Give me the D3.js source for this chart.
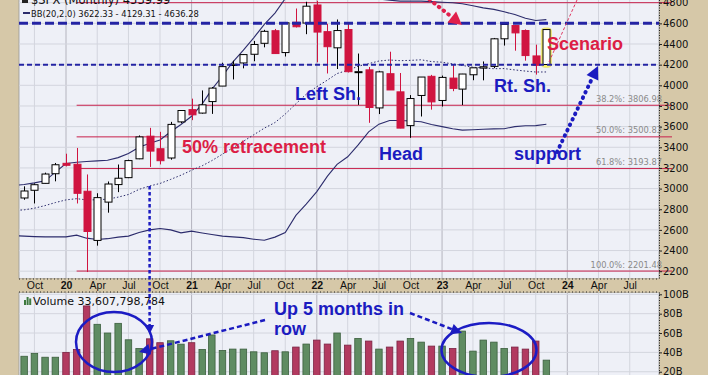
<!DOCTYPE html>
<html><head><meta charset="utf-8">
<script src="https://cdn.jsdelivr.net/npm/d3@7"></script>
<style>html,body{margin:0;padding:0;background:#d6c8a8;}svg{display:block;}</style>
</head><body>
<svg id="c" width="708" height="375"></svg>
<script>
// ---------- DATA ----------
const months = ["2019-08","2019-09","2019-10","2019-11","2019-12",
"2020-01","2020-02","2020-03","2020-04","2020-05","2020-06","2020-07","2020-08","2020-09","2020-10","2020-11","2020-12",
"2021-01","2021-02","2021-03","2021-04","2021-05","2021-06","2021-07","2021-08","2021-09","2021-10","2021-11","2021-12",
"2022-01","2022-02","2022-03","2022-04","2022-05","2022-06","2022-07","2022-08","2022-09","2022-10","2022-11","2022-12",
"2023-01","2023-02","2023-03","2023-04","2023-05","2023-06","2023-07","2023-08","2023-09","2023-10","2023-11"];
const openP = [2980.32,2909.01,2983.69,3050.72,3143.85,
3244.67,3235.66,2974.28,2498.08,2869.09,3038.78,3105.92,3288.26,3507.44,3385.87,3296.20,3645.87,
3764.61,3731.17,3842.51,3992.78,4191.98,4216.52,4300.73,4406.86,4528.80,4317.16,4610.62,4602.82,
4778.14,4519.57,4363.14,4540.32,4130.61,4149.78,3781.00,4112.38,3936.73,3609.78,3901.79,4087.14,
3853.29,4070.07,3963.34,4102.20,4166.79,4183.03,4450.48,4578.83,4530.60,4284.52,4201.27];
const highP = [3013.59,3021.99,3050.10,3154.26,3247.93,
3337.77,3393.52,3136.72,2954.86,3068.67,3233.13,3279.99,3514.77,3588.11,3549.85,3645.99,3760.20,
3870.90,3950.43,3983.87,4218.78,4238.04,4302.43,4429.97,4537.36,4545.85,4608.08,4743.83,4808.93,
4818.62,4595.31,4637.30,4593.45,4307.66,4177.51,4140.15,4325.28,4119.28,3905.42,4080.11,4100.96,
4094.21,4195.44,4110.75,4170.06,4231.10,4458.48,4607.07,4584.62,4541.25,4393.57,4541.00];
const lowP = [2822.12,2891.85,2855.94,3050.72,3070.33,
3214.64,2855.84,2191.86,2447.49,2766.64,2965.66,3101.17,3284.53,3209.45,3233.94,3279.74,3633.40,
3662.71,3725.62,3723.34,3992.78,4056.88,4164.40,4233.13,4367.73,4305.91,4278.94,4560.00,4495.12,
4222.62,4114.65,4157.87,4124.28,3810.32,3636.87,3721.56,3954.53,3584.13,3491.58,3698.15,3764.49,
3794.33,3943.08,3808.86,4049.35,4048.28,4166.15,4385.05,4335.31,4238.63,4103.78,4197.74];
const closeP = [2926.46,2976.74,3037.56,3140.98,3230.78,
3225.52,2954.22,2584.59,2912.43,3044.31,3100.29,3271.12,3500.31,3363.00,3269.96,3621.63,3756.07,
3714.24,3811.15,3972.89,4181.17,4204.11,4297.50,4395.26,4522.68,4307.54,4605.38,4567.00,4766.18,
4515.55,4373.94,4530.41,4131.93,4132.15,3785.38,4130.29,3955.00,3585.62,3871.98,4080.11,3839.50,
4076.60,3970.15,4109.31,4169.48,4179.83,4450.38,4588.96,4507.66,4288.05,4193.80,4539.99];
const prevCloseBefore = 2980.38;
// volume in billions
const volumeB = [40,36,39,35,35,
40,43,88,69,60,70,53,44,54,50,52,48.5,
50,43,58,42,43.4,43.4,40.6,39.6,41.7,40.6,45.5,48.6,
52.7,48.6,60,47.5,54.4,51.7,43.4,45.5,51.7,54.4,50.6,46.5,
46.5,44,62,41.3,52.7,50.6,44,45.5,43.4,51.7,32];
// Bollinger bands (20, 2.0)
const bbUpper = [3030,3040,3055,3075,3160,
3243,3255,3262,3268,3275,3300,3340,3400,3440,3470,3550,3620,
3700,3820,3960,4090,4225,4340,4460,4590,4700,4840,4920,4990,
5030,5020,5000,4980,4950,4880,4835,4825,4815,4815,4815,4810,
4805,4800,4790,4770,4750,4735,4712,4685,4650,4628,4636.28];
const bbMid = [2786.6,2794.2,2810.3,2835.3,2864.5,
2890.5,2902.3,2890.7,2891.2,2897.7,2917.2,2942.7,2992.4,3025.3,3049.6,3089.0,3129.5,
3177.6,3221.1,3270.7,3333.4,3394.8,3457.8,3520.5,3585.1,3639.2,3721.8,3820.9,3913.6,
3987.2,4050.9,4113.9,4145.5,4184.0,4209.8,4235.2,4245.1,4238.7,4241.7,4247.1,4230.0,
4223.6,4207.2,4192.9,4175.2,4168.8,4161.0,4162.1,4149.2,4137.8,4128.8,4129.31];
const bbLower = [2545,2540,2535,2532,2532,
2532,2549,2520,2507,2515,2530,2540,2575,2600,2614,2600,2571,
2588,2570,2555,2540,2532,2525,2510,2500,2530,2575,2740,2850,
2970,3120,3235,3308,3420,3550,3624,3660,3660,3655,3647,3620,
3600,3580,3566,3570,3575,3578,3580,3600,3608,3610,3622.33];
const priceTicks = [2200,2400,2600,2800,3000,3200,3400,3600,3800,4000,4200,4400,4600,4800];
const volTicks = [20,40,60,80,100];
const volTickLabels = ["20B","40B","60B","80B","100B"];
const fibValues = [4800.18,3806.98,3500.83,3193.87,2201.48];
const fibLabels = ["","38.2%: 3806.98","50.0%: 3500.83","61.8%: 3193.87","100.0%: 2201.48"];
const levelLines = [4600,4200];
const titleText = "$SPX (Monthly) 4539.99";
const bbLegend = "BB(20,2.0) 3622.33 - 4129.31 - 4636.28";
const volLegend = "Volume 33,607,798,784";

// ---------- LAYOUT ----------
const W=708,H=375,L=19,R=659,PB=278.5,BT=278.5,BBt=292.5,VT=292.5;
const svg = d3.select("#c");
const parse = d3.timeParse("%Y-%m");
const dates = months.map(parse);
const x = d3.scaleTime().domain([new Date(2020,0,1),new Date(2024,0,1)]).range([66,567.3]);
const y = d3.scaleLinear().domain([2200,4800]).range([271.2,2.7]);
const yv = d3.scaleLinear().domain([0,100]).range([391.1,294.3]);

const BLUE="#1b1bc0", RED="#dc1e46", CAND_RED="#d01440", NAVY="#2c2c6c";

svg.append("rect").attr("width",W).attr("height",H).attr("fill","#d6c8a8");
const defs = svg.append("defs");
defs.append("clipPath").attr("id","cp").append("rect").attr("x",L).attr("y",-20).attr("width",R-L).attr("height",PB+20);
defs.append("clipPath").attr("id","cv").append("rect").attr("x",L).attr("y",VT).attr("width",R-L).attr("height",H-VT+10);

// panels
svg.append("rect").attr("x",L).attr("y",-5).attr("width",R-L).attr("height",PB+5).attr("fill","#eef0f7").attr("stroke","#9a9a9a").attr("stroke-width",0.8);
svg.append("rect").attr("x",L).attr("y",VT).attr("width",R-L).attr("height",H-VT+5).attr("fill","#eef0f7").attr("stroke","#9a9a9a").attr("stroke-width",0.8);

// grid
const quarters = d3.timeMonth.every(3).range(new Date(2019,9,1), new Date(2024,9,1));
const grid = svg.append("g");
quarters.forEach(q=>{
  const isYear = q.getMonth()===0;
  const c = isYear ? "#b4b4be" : "#d3d5de";
  grid.append("line").attr("x1",x(q)).attr("x2",x(q)).attr("y1",-5).attr("y2",PB).attr("stroke",c).attr("stroke-width",1);
  grid.append("line").attr("x1",x(q)).attr("x2",x(q)).attr("y1",VT).attr("y2",H).attr("stroke",c).attr("stroke-width",1);
});
priceTicks.forEach(t=>{
  grid.append("line").attr("x1",L).attr("x2",R).attr("y1",y(t)).attr("y2",y(t)).attr("stroke","#d3d5de");
});
volTicks.forEach(t=>{
  grid.append("line").attr("x1",L).attr("x2",R).attr("y1",yv(t)).attr("y2",yv(t)).attr("stroke","#d3d5de");
});

// fib lines
const fibStart = x(new Date(2020,1,1));
const fib = svg.append("g");
fibValues.forEach((v,i)=>{
  fib.append("line").attr("x1",fibStart).attr("x2",672).attr("y1",y(v)).attr("y2",y(v)).attr("stroke","#c8204c").attr("stroke-width",1);
  if (fibLabels[i]) fib.append("text").attr("x",662).attr("y",y(v)-3.5).attr("text-anchor","end")
    .attr("font-family","DejaVu Sans").attr("font-size",8.3).attr("fill","#8a8a8a").text(fibLabels[i]);
});

// price layer (clipped)
const pg = svg.append("g").attr("clip-path","url(#cp)");
const line = arr => d3.line().x((d,i)=>x(dates[i])).y(d=>y(d))(arr);
pg.append("path").attr("d",line(bbUpper)).attr("fill","none").attr("stroke",NAVY).attr("stroke-width",1.1);
pg.append("path").attr("d",line(bbLower)).attr("fill","none").attr("stroke",NAVY).attr("stroke-width",1.1);
pg.append("path").attr("d",line(bbMid)).attr("fill","none").attr("stroke",NAVY).attr("stroke-width",1).attr("stroke-dasharray","1.5,2");

// yellow highlight behind last candle
const lastD = dates[dates.length-1];
pg.append("rect").attr("x",x(lastD)-5).attr("y",y(4555)).attr("width",10).attr("height",y(4175)-y(4555))
  .attr("rx",3).attr("fill","#fbf76a").attr("stroke","#ece27a").attr("stroke-width",1);

// candles
const bw = 7;
const cg = pg.append("g");
dates.forEach((d,i)=>{
  const o=openP[i],h=highP[i],l=lowP[i],c=closeP[i];
  const pc = i>0?closeP[i-1]:prevCloseBefore;
  const col = c<pc ? CAND_RED : "#000";
  const filled = c<o;
  const cx = Math.round(x(d))+0.5;
  cg.append("line").attr("x1",cx).attr("x2",cx).attr("y1",y(h)).attr("y2",y(l)).attr("stroke",col).attr("stroke-width",1);
  const top=y(Math.max(o,c)), bot=y(Math.min(o,c));
  cg.append("rect").attr("x",cx-bw/2).attr("y",top).attr("width",bw).attr("height",Math.max(1,bot-top))
    .attr("fill",filled?col:"#fff").attr("stroke",col).attr("stroke-width",1);
});

// horizontal blue dashed level lines
pg.append("line").attr("x1",L).attr("x2",R).attr("y1",y(levelLines[0])).attr("y2",y(levelLines[0]))
  .attr("stroke","#2424a4").attr("stroke-width",3).attr("stroke-dasharray","9,4");
pg.append("line").attr("x1",L).attr("x2",R).attr("y1",y(levelLines[1])).attr("y2",y(levelLines[1]))
  .attr("stroke","#2424a4").attr("stroke-width",2).attr("stroke-dasharray","5,3");

// legends
svg.append("rect").attr("x",22).attr("y",-3).attr("width",6).attr("height",6).attr("fill","#222");
svg.append("text").attr("x",31).attr("y",3.5).attr("font-family","DejaVu Sans").attr("font-size",11.5).attr("fill","#111").text(titleText);
svg.append("line").attr("x1",23).attr("x2",30).attr("y1",13).attr("y2",13).attr("stroke",NAVY).attr("stroke-width",2);
svg.append("text").attr("x",31).attr("y",16.8).attr("font-family","DejaVu Sans").attr("font-size",8.4).attr("fill","#111").text(bbLegend);

// x axis band
svg.append("rect").attr("x",L).attr("y",BT).attr("width",R-L).attr("height",BBt-BT).attr("fill","#d6c8a8");
svg.append("line").attr("x1",L).attr("x2",R).attr("y1",BT+0.5).attr("y2",BT+0.5).attr("stroke","#222").attr("stroke-dasharray","1,2.5");
svg.append("line").attr("x1",L).attr("x2",R).attr("y1",BBt-0.5).attr("y2",BBt-0.5).attr("stroke","#222").attr("stroke-dasharray","1,2.5");
const fmtQ = d => d.getMonth()===0 ? d3.timeFormat("%y")(d) : d3.timeFormat("%b")(d);
const xAxis = svg.append("g").attr("transform",`translate(0,${BT})`)
  .call(d3.axisBottom(x).tickValues(quarters).tickFormat(fmtQ).tickSize(0).tickPadding(3));
xAxis.select(".domain").remove();
xAxis.selectAll("text").attr("font-family","Liberation Sans").attr("font-size",10.5).attr("fill","#111")
  .attr("font-weight",d=>d.getMonth()===0?"bold":"normal");

// right axes
const ra = svg.append("g").attr("transform",`translate(${R},0)`)
  .call(d3.axisRight(y).tickValues(priceTicks).tickFormat(d3.format("d")).tickSize(3).tickPadding(1));
ra.select(".domain").attr("stroke","#222").attr("stroke-dasharray","1,1.5").attr("d",`M0.5,-5V${PB}`);
ra.selectAll(".tick line").attr("stroke","#222");
ra.selectAll("text").attr("font-family","DejaVu Sans").attr("font-size",10).attr("fill","#111");

const va = svg.append("g").attr("transform",`translate(${R},0)`)
  .call(d3.axisRight(yv).tickValues(volTicks).tickFormat((d,i)=>volTickLabels[i]).tickSize(3).tickPadding(1));
va.select(".domain").attr("stroke","#222").attr("stroke-dasharray","1,1.5").attr("d",`M0.5,${VT}V${H}`);
va.selectAll(".tick line").attr("stroke","#222");
va.selectAll("text").attr("font-family","DejaVu Sans").attr("font-size",10).attr("fill","#111");

// volume bars
const vg = svg.append("g").attr("clip-path","url(#cv)");
const vbw = 6.5;
dates.forEach((d,i)=>{
  const pc = i>0?closeP[i-1]:prevCloseBefore;
  const red = closeP[i]<pc;
  vg.append("rect").attr("x",x(d)-vbw/2).attr("y",yv(volumeB[i])).attr("width",vbw).attr("height",yv(0)-yv(volumeB[i]))
    .attr("fill",red?"#b23a60":"#5f8c62").attr("stroke",red?"#7a2242":"#3b5e3d").attr("stroke-width",0.8);
});
// volume legend
[[24,300,2,5],[26.6,297,2,8],[29.2,298.5,2,6.5]].forEach(b=>{
  svg.append("rect").attr("x",b[0]).attr("y",b[1]).attr("width",b[2]).attr("height",b[3]).attr("fill","#3f7a3f");
});
svg.append("text").attr("x",33).attr("y",304.5).attr("font-family","DejaVu Sans").attr("font-size",11).attr("fill","#111").text(volLegend);

// ---------- ANNOTATIONS ----------
const ann = svg.append("g");
function arrowHead(g, x0,y0,x1,y1,len,half,col){
  const dx=x1-x0, dy=y1-y0, d=Math.hypot(dx,dy), ux=dx/d, uy=dy/d;
  const bx=x1-ux*len, by=y1-uy*len, px=-uy*half, py=ux*half;
  g.append("path").attr("d",`M${x1},${y1}L${bx+px},${by+py}L${bx-px},${by-py}Z`).attr("fill",col);
  return [bx,by];
}
// vertical dashed arrow to volume
ann.append("line").attr("x1",149.6).attr("x2",149.6).attr("y1",186).attr("y2",326)
  .attr("stroke",BLUE).attr("stroke-width",2.5).attr("stroke-dasharray","3.5,2.5");
arrowHead(ann,149.6,300,149.6,334,9,4.5,BLUE);
// ellipses
ann.append("ellipse").attr("cx",114).attr("cy",342).attr("rx",38).attr("ry",30).attr("fill","none").attr("stroke","#1c1cc4").attr("stroke-width",2.5);
ann.append("ellipse").attr("cx",489).attr("cy",350).attr("rx",47.5).attr("ry",27).attr("fill","none").attr("stroke","#1c1cc4").attr("stroke-width",2.5);
// dashed arrows from "Up 5 months" label
let b1 = arrowHead(ann,265,320,139,352,11,5.5,BLUE);
ann.append("line").attr("x1",265).attr("y1",320).attr("x2",b1[0]).attr("y2",b1[1]).attr("stroke",BLUE).attr("stroke-width",2.5).attr("stroke-dasharray","5,3");
let b2 = arrowHead(ann,410,313,462,333,11,5.5,BLUE);
ann.append("line").attr("x1",410).attr("y1",313).attr("x2",b2[0]).attr("y2",b2[1]).attr("stroke",BLUE).attr("stroke-width",2.5).attr("stroke-dasharray","5,3");
// support arrow (dotted)
let b3 = arrowHead(ann,557,152,598,66,13,6.5,BLUE);
ann.append("line").attr("x1",557).attr("y1",152).attr("x2",b3[0]).attr("y2",b3[1]).attr("stroke",BLUE).attr("stroke-width",4).attr("stroke-linecap","round").attr("stroke-dasharray","0.5,5.5");
// red dotted arrow at top
let b4 = arrowHead(ann,420,-8,462,25,13,7,"#e0204c");
ann.append("line").attr("x1",420).attr("y1",-8).attr("x2",b4[0]).attr("y2",b4[1]).attr("stroke","#e0204c").attr("stroke-width",4).attr("stroke-linecap","round").attr("stroke-dasharray","0.5,5.5");
// scenario projection
ann.append("line").attr("x1",549).attr("y1",62).attr("x2",577).attr("y2",0).attr("stroke","#e03a64").attr("stroke-width",1).attr("stroke-dasharray","3,2");

const txt = (s,xx,yy,col)=>ann.append("text").attr("x",xx).attr("y",yy).attr("font-family","Liberation Sans").attr("font-weight","bold").attr("font-size",18).attr("fill",col).text(s);
txt("Left Sh.",295,100,BLUE);
txt("Head",379,160,BLUE);
txt("Rt. Sh.",494,92,BLUE);
txt("Scenario",547,50,RED);
txt("support",514,160,BLUE);
txt("50% retracement",182,153,RED);
txt("Up 5 months in",274,315,BLUE);
txt("row",274,335,BLUE);
</script>
</body></html>
